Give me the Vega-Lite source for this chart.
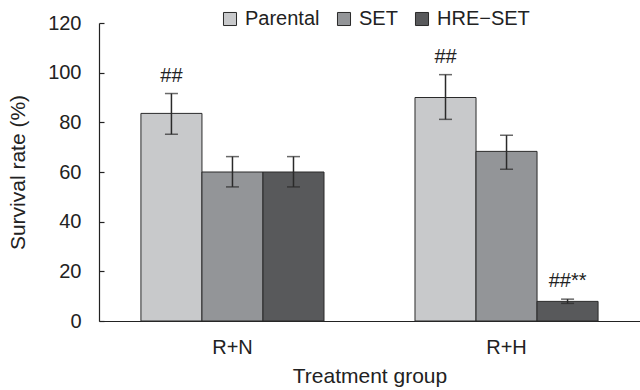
{
  "$schema": "https://vega.github.io/schema/vega-lite/v6.json",
  "width": 541,
  "height": 298,
  "autosize": {"type": "none"},
  "padding": {"left": 99, "top": 23, "right": 0, "bottom": 69},
  "background": "white",
  "config": {
    "view": {"stroke": null},
    "font": "Liberation Sans",
    "axis": {"labelFont": "Liberation Sans", "titleFont": "Liberation Sans", "labelColor": "#222", "titleColor": "#222", "domainColor": "#222", "tickColor": "#222", "grid": false, "titleFontWeight": "normal", "labelFontSize": 20, "titleFontSize": 21},
    "legend": {"labelFont": "Liberation Sans", "labelFontSize": 20, "labelColor": "#222"}
  },
  "data": {
    "values": [
      {"group": "R+N", "cell": "Parental", "mean": 83.6, "lo": 75.2, "hi": 91.6, "label": "##"},
      {"group": "R+N", "cell": "SET", "mean": 60, "lo": 54, "hi": 66.2, "label": ""},
      {"group": "R+N", "cell": "HRE−SET", "mean": 60, "lo": 54, "hi": 66.2, "label": ""},
      {"group": "R+H", "cell": "Parental", "mean": 90, "lo": 81.2, "hi": 99.2, "label": "##"},
      {"group": "R+H", "cell": "SET", "mean": 68.3, "lo": 61.1, "hi": 74.8, "label": ""},
      {"group": "R+H", "cell": "HRE−SET", "mean": 7.9, "lo": 7.1, "hi": 8.8, "label": "##**"}
    ]
  },
  "encoding": {
    "x": {
      "field": "group", "type": "nominal", "sort": ["R+N", "R+H"],
      "scale": {"paddingInner": 0.332, "paddingOuter": 0.153},
      "axis": {"title": "Treatment group", "labelAngle": 0, "ticks": false, "labelPadding": 16, "titlePadding": 8, "domainWidth": 1.2}
    },
    "xOffset": {"field": "cell", "type": "nominal", "sort": ["Parental", "SET", "HRE−SET"], "scale": {"paddingInner": 0, "paddingOuter": 0}}
  },
  "layer": [
    {
      "mark": {"type": "bar", "stroke": "#2a2a2a", "strokeWidth": 1},
      "encoding": {
        "y": {"field": "mean", "type": "quantitative", "scale": {"domain": [0, 120], "nice": false},
          "axis": {"title": "Survival rate (%)", "values": [0, 20, 40, 60, 80, 100, 120], "tickSize": -5, "labelPadding": 23, "titlePadding": 19, "domainWidth": 1.2, "tickWidth": 1.2}},
        "color": {"field": "cell", "type": "nominal", "sort": ["Parental", "SET", "HRE−SET"],
          "scale": {"domain": ["Parental", "SET", "HRE−SET"], "range": ["#c8c9cb", "#939598", "#58595b"]},
          "legend": {"title": null, "orient": "none", "legendX": 121, "legendY": -14, "direction": "horizontal", "symbolType": "square", "symbolSize": 170, "symbolStrokeColor": "#2a2a2a", "symbolStrokeWidth": 1, "columnPadding": 14, "labelOffset": 5}}
      }
    },
    {
      "mark": {"type": "rule", "color": "#2a2a2a", "strokeWidth": 1.5},
      "encoding": {"y": {"field": "lo", "type": "quantitative"}, "y2": {"field": "hi"}}
    },
    {
      "mark": {"type": "tick", "color": "#2a2a2a", "thickness": 1.5, "size": 13, "orient": "horizontal"},
      "encoding": {"y": {"field": "lo", "type": "quantitative"}}
    },
    {
      "mark": {"type": "tick", "color": "#2a2a2a", "thickness": 1.5, "size": 13, "orient": "horizontal"},
      "encoding": {"y": {"field": "hi", "type": "quantitative"}}
    },
    {
      "mark": {"type": "text", "baseline": "bottom", "dy": -8, "fontSize": 20, "color": "#222", "font": "Liberation Sans"},
      "encoding": {"y": {"field": "hi", "type": "quantitative"}, "text": {"field": "label"}}
    }
  ]
}
